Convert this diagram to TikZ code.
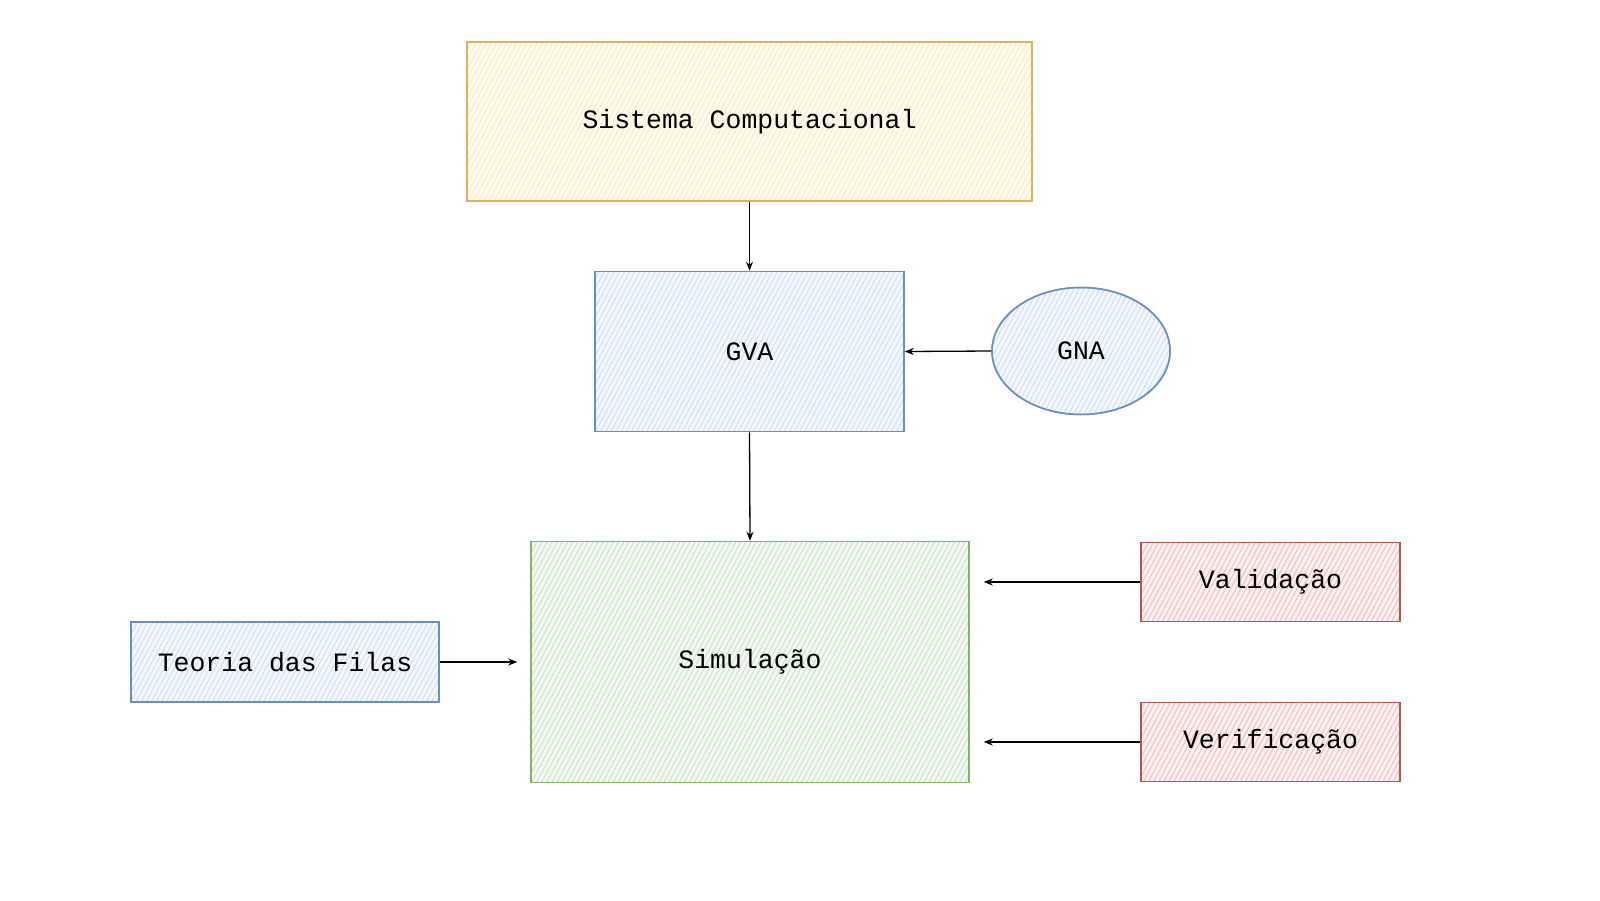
\documentclass[tikz,border=0pt]{standalone}
\usepackage{fontspec}
\setmonofont{Liberation Mono}
\usetikzlibrary{arrows.meta,patterns.meta,shapes.geometric}
\definecolor{yfill}{HTML}{FFF2CC}\definecolor{ystroke}{HTML}{D6B656}
\definecolor{bfill}{HTML}{DAE8FC}\definecolor{bstroke}{HTML}{6C8EBF}
\definecolor{gfill}{HTML}{D5E8D4}\definecolor{gstroke}{HTML}{82B366}
\definecolor{rfill}{HTML}{F8CECC}\definecolor{rstroke}{HTML}{B85450}
\tikzset{
  box/.style={draw, line width=1.5pt, minimum width=#1, font=\ttfamily\fontsize{26.5}{30}\selectfont, inner sep=0pt},
  hatch/.style 2 args={fill=#1!30!white,
    postaction={pattern={Lines[angle=62,distance=4.5pt,line width=1pt]}, pattern color=#1!88!#2},
    postaction={draw=#2, fill=none}},
  conn/.style={draw=black, line width=1.3pt, -{Stealth[length=9pt,width=7pt]}},
}
\begin{document}
\begin{tikzpicture}[x=1pt,y=-1pt]
\useasboundingbox (0,0) rectangle (1600,900);
\fill[white] (0,0) rectangle (1600,900);
\node[box=565pt, minimum height=159pt, draw=ystroke, hatch={yfill}{ystroke}] (sis) at (749.5,121.5) {Sistema Computacional};
\node[box=309pt, minimum height=160pt, draw=bstroke, hatch={bfill}{bstroke}] (gva) at (749.5,351.5) {GVA};
\node[draw=bstroke, line width=1.5pt, ellipse, minimum width=178pt, minimum height=127pt, inner sep=0pt, hatch={bfill}{bstroke}, font=\ttfamily\fontsize{26.5}{30}\selectfont] (gna) at (1081,351) {GNA};
\node[box=438pt, minimum height=241pt, draw=gstroke, hatch={gfill}{gstroke}] (sim) at (750,662) {Simulação};
\node[box=308pt, minimum height=80pt, draw=bstroke, hatch={bfill}{bstroke}] (teo) at (285,662) {Teoria das Filas};
\node[box=259pt, minimum height=79pt, draw=rstroke, hatch={rfill}{rstroke}] (val) at (1270.5,582) {Validação};
\node[box=259pt, minimum height=79pt, draw=rstroke, hatch={rfill}{rstroke}] (ver) at (1270.5,742) {Verificação};
\coordinate (valend) at ([xshift=14pt]sim.east |- val.west);
\coordinate (verend) at ([xshift=14pt]sim.east |- ver.west);
\draw[conn] (sis.south) -- (gva.north);
\draw[conn] (gva.south) -- (sim.north);
\draw[conn] (gna.west) -- (gva.east);
\draw[conn, shorten >=13pt] (teo.east) -- (sim.west);
\draw[conn] (val.west) -- (valend);
\draw[conn] (ver.west) -- (verend);
\end{tikzpicture}
\end{document}
